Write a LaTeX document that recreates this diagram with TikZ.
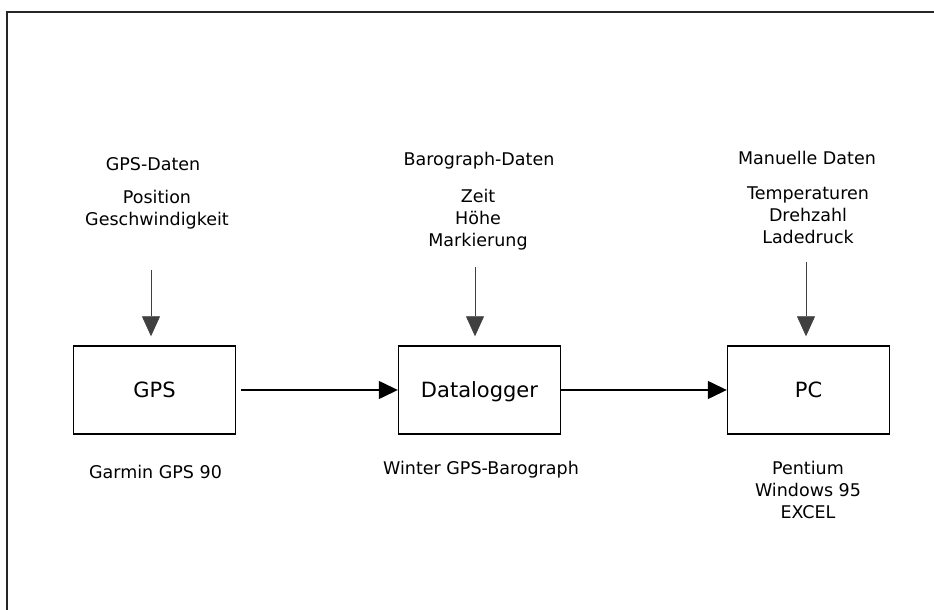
\documentclass[tikz,border=0pt]{standalone}
\usepackage{fontspec}
\setmainfont{DejaVu Sans}
\usetikzlibrary{arrows.meta}

\begin{document}
\begin{tikzpicture}[
  x=1pt,
  y=1pt,
  device/.style={
    draw=black,
    line width=1.4pt,
    minimum width=162pt,
    minimum height=88pt,
    inner sep=0pt,
    text depth=0pt,
    font=\fontsize{21}{25}\selectfont
  },
  heading/.style={font=\fontsize{17.5}{21}\selectfont, inner sep=0pt},
  note/.style={font=\fontsize{17.5}{22}\selectfont, align=center, inner sep=0pt},
  flow/.style={draw=black, line width=1.3pt, -{Triangle[length=19pt,width=18pt]}},
  feed/.style={
    draw=black!75,
    line width=0.8pt,
    -{Triangle[length=20pt,width=18pt]},
    shorten >=9pt
  },
  frame/.style={draw=black!85, line width=1.5pt}
]

\useasboundingbox (0,0) rectangle (934,610);
\draw[frame] (7,0) -- (7,598) -- (934,598);

\node[device] (gps) at (154.5,220) {GPS};
\node[device] (logger) at (479.5,220) {Datalogger};
\node[device] (pc) at (808.5,220) {PC};

% Data sources above the units.
\node[heading] (gpshead) at (153,446) {GPS-Daten};
\node[note] (gpsdata) at (157,400) {Position\\Geschwindigkeit};
\node[heading] (barohead) at (479,449) {Barograph-Daten};
\node[note] (barodata) at (478,390) {Zeit\\Höhe\\Markierung};
\node[heading] (manhead) at (807,452) {Manuelle Daten};
\node[note] (mandata) at (808,394.5) {Temperaturen\\Drehzahl\\Ladedruck};

\node[note] (gpstype) at (155.5,138) {Garmin GPS 90};
\node[note] (loggertype) at (481,140) {Winter GPS-Barograph};
\node[note] (pctype) at (808,120) {Pentium\\Windows 95\\EXCEL};

\coordinate (gpsin) at (151,340);
\coordinate (baroin) at (475,343);
\coordinate (manin) at (806,348);

\draw[feed] (gpsin) -- (gpsin |- gps.north);
\draw[feed] (baroin) -- (baroin |- logger.north);
\draw[feed] (manin) -- (manin |- pc.north);

\draw[flow, shorten <=5pt] (gps.east) -- (logger.west);
\draw[flow] (logger.east) -- (pc.west);

\end{tikzpicture}
\end{document}
